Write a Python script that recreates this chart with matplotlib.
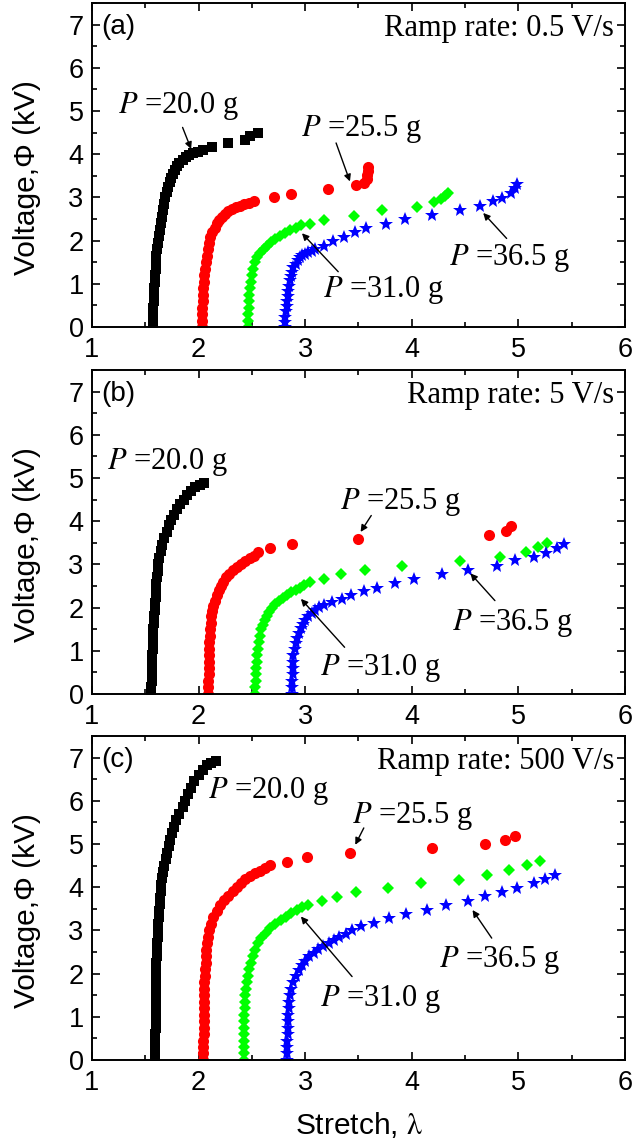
import matplotlib
matplotlib.use("Agg")
import matplotlib.pyplot as plt
from matplotlib.ticker import MultipleLocator

plt.rcParams["font.family"] = "Liberation Sans"
plt.rcParams["mathtext.fontset"] = "stix"

# ---- data: stretch (x) and voltage in kV (v) ----
# (a) ramp rate 0.5 V/s
a_20_x = [1.57, 1.57, 1.575, 1.575, 1.58, 1.58, 1.585, 1.59, 1.595, 1.60,
          1.60, 1.605, 1.61, 1.615, 1.625, 1.635, 1.645, 1.655, 1.665, 1.675,
          1.685, 1.70, 1.715, 1.73, 1.745, 1.76, 1.78, 1.80, 1.82, 1.85,
          1.88, 1.91, 1.95, 1.99, 2.04, 2.13, 2.28, 2.44, 2.48, 2.56]
a_20_v = [0, 0.15, 0.3, 0.45, 0.6, 0.75, 0.9, 1.05, 1.2, 1.35,
          1.5, 1.65, 1.8, 1.95, 2.1, 2.25, 2.4, 2.55, 2.7, 2.85,
          3.0, 3.12, 3.24, 3.35, 3.45, 3.55, 3.64, 3.72, 3.8, 3.87,
          3.93, 3.98, 4.02, 4.06, 4.10, 4.17, 4.27, 4.33, 4.41, 4.48]
a_255_x = [2.03, 2.03, 2.035, 2.035, 2.04, 2.04, 2.045, 2.05, 2.055, 2.06,
           2.065, 2.075, 2.085, 2.10, 2.11, 2.13, 2.15, 2.17, 2.19, 2.22,
           2.25, 2.28, 2.31, 2.35, 2.39, 2.43, 2.47, 2.52, 2.71, 2.87,
           3.21, 3.48, 3.55, 3.58, 3.58, 3.585, 3.59]
a_255_v = [0, 0.15, 0.3, 0.45, 0.6, 0.75, 0.9, 1.05, 1.2, 1.35,
           1.5, 1.65, 1.8, 1.95, 2.08, 2.2, 2.3, 2.4, 2.48, 2.55,
           2.62, 2.68, 2.73, 2.77, 2.81, 2.85, 2.88, 2.92, 3.0, 3.08,
           3.19, 3.29, 3.33, 3.42, 3.52, 3.62, 3.70]
a_31_x = [2.46, 2.46, 2.465, 2.47, 2.47, 2.475, 2.48, 2.49, 2.50, 2.51,
          2.53, 2.55, 2.58, 2.61, 2.64, 2.68, 2.72, 2.76, 2.81, 2.86,
          2.91, 2.96, 3.05, 3.18, 3.46, 3.72, 4.05, 4.21, 4.27, 4.31, 4.34]
a_31_v = [0, 0.15, 0.3, 0.45, 0.6, 0.75, 0.9, 1.05, 1.2, 1.35,
          1.5, 1.62, 1.72, 1.8, 1.88, 1.96, 2.04, 2.11, 2.18, 2.25,
          2.3, 2.35, 2.39, 2.48, 2.57, 2.70, 2.78, 2.90, 2.97, 3.04, 3.10]
a_365_x = [2.81, 2.81, 2.815, 2.82, 2.825, 2.83, 2.835, 2.84, 2.85, 2.86,
           2.87, 2.88, 2.89, 2.91, 2.93, 2.95, 2.97, 3.00, 3.03, 3.06,
           3.09, 3.18, 3.26, 3.36, 3.47, 3.57, 3.76, 3.94, 4.19, 4.45,
           4.64, 4.76, 4.85, 4.93, 4.97, 4.99]
a_365_v = [0, 0.12, 0.24, 0.36, 0.48, 0.6, 0.72, 0.84, 0.96, 1.08,
           1.18, 1.28, 1.38, 1.47, 1.55, 1.61, 1.66, 1.7, 1.74, 1.77,
           1.8, 1.88, 2.0, 2.09, 2.19, 2.29, 2.39, 2.50, 2.60, 2.70,
           2.79, 2.91, 2.98, 3.10, 3.22, 3.31]

# (b) ramp rate 5 V/s
b_20_x = [1.555, 1.555, 1.56, 1.56, 1.56, 1.565, 1.565, 1.57, 1.57, 1.575,
          1.575, 1.58, 1.585, 1.59, 1.595, 1.60, 1.60, 1.605, 1.61, 1.615,
          1.62, 1.63, 1.645, 1.66, 1.68, 1.70, 1.72, 1.74, 1.77, 1.80,
          1.83, 1.86, 1.89, 1.93, 1.97, 2.01, 2.05]
b_20_v = [0, 0.15, 0.3, 0.45, 0.6, 0.75, 0.9, 1.05, 1.2, 1.35,
          1.5, 1.65, 1.8, 1.95, 2.1, 2.25, 2.4, 2.55, 2.7, 2.85,
          3.0, 3.15, 3.3, 3.45, 3.6, 3.75, 3.9, 4.02, 4.15, 4.28,
          4.4, 4.5, 4.6, 4.7, 4.78, 4.84, 4.88]
b_255_x = [2.09, 2.09, 2.09, 2.095, 2.095, 2.095, 2.10, 2.10, 2.10, 2.105,
           2.11, 2.115, 2.12, 2.13, 2.14, 2.15, 2.17, 2.19, 2.21, 2.23,
           2.26, 2.29, 2.32, 2.36, 2.40, 2.44, 2.48, 2.52, 2.56, 2.67,
           2.88, 3.50, 4.72, 4.88, 4.93]
b_255_v = [0, 0.15, 0.3, 0.45, 0.6, 0.75, 0.9, 1.05, 1.2, 1.35,
           1.5, 1.65, 1.8, 1.92, 2.04, 2.16, 2.28, 2.4, 2.5, 2.6,
           2.7, 2.78, 2.86, 2.94, 3.01, 3.08, 3.14, 3.2, 3.28, 3.37,
           3.47, 3.58, 3.68, 3.77, 3.88]
b_31_x = [2.53, 2.53, 2.535, 2.54, 2.54, 2.545, 2.55, 2.555, 2.565, 2.575,
          2.59, 2.60, 2.62, 2.64, 2.66, 2.69, 2.72, 2.75, 2.79, 2.83,
          2.87, 2.91, 2.95, 2.99, 3.05, 3.18, 3.34, 3.56, 3.91, 4.45,
          4.83, 5.07, 5.18, 5.27]
b_31_v = [0, 0.15, 0.3, 0.45, 0.6, 0.75, 0.9, 1.05, 1.2, 1.35,
          1.5, 1.6, 1.7, 1.8, 1.9, 2.0, 2.08, 2.15, 2.22, 2.29,
          2.35, 2.41, 2.46, 2.51, 2.59, 2.66, 2.78, 2.87, 2.96, 3.07,
          3.18, 3.28, 3.40, 3.49]
b_365_x = [2.88, 2.88, 2.88, 2.885, 2.885, 2.89, 2.89, 2.90, 2.91, 2.92,
           2.94, 2.96, 2.98, 3.00, 3.03, 3.06, 3.09, 3.13, 3.18, 3.25,
           3.35, 3.43, 3.55, 3.67, 3.84, 4.02, 4.28, 4.53, 4.80, 4.97,
           5.15, 5.26, 5.36, 5.43]
b_365_v = [0, 0.15, 0.3, 0.45, 0.6, 0.75, 0.9, 1.05, 1.18, 1.3,
           1.42, 1.52, 1.62, 1.7, 1.8, 1.88, 1.95, 2.02, 2.07, 2.12,
           2.20, 2.28, 2.38, 2.45, 2.56, 2.66, 2.78, 2.87, 2.97, 3.09,
           3.17, 3.26, 3.37, 3.47]

# (c) ramp rate 500 V/s
c_20_x = [1.595, 1.595, 1.595, 1.595, 1.595, 1.60, 1.60, 1.60, 1.60, 1.60,
          1.60, 1.60, 1.60, 1.60, 1.605, 1.605, 1.61, 1.61, 1.61, 1.615,
          1.62, 1.62, 1.625, 1.63, 1.635, 1.64, 1.645, 1.65, 1.66, 1.67,
          1.68, 1.69, 1.70, 1.72, 1.73, 1.75, 1.77, 1.79, 1.82, 1.85,
          1.87, 1.90, 1.93, 1.96, 2.00, 2.04, 2.08, 2.12, 2.16]
c_20_v = [0, 0.15, 0.3, 0.45, 0.6, 0.75, 0.9, 1.05, 1.2, 1.35,
          1.5, 1.65, 1.8, 1.95, 2.1, 2.25, 2.4, 2.55, 2.7, 2.85,
          3.0, 3.15, 3.3, 3.45, 3.6, 3.75, 3.9, 4.05, 4.2, 4.35,
          4.5, 4.65, 4.8, 4.95, 5.1, 5.25, 5.4, 5.55, 5.7, 5.85,
          6.0, 6.15, 6.3, 6.45, 6.6, 6.72, 6.82, 6.88, 6.92]
c_255_x = [2.045, 2.045, 2.045, 2.045, 2.05, 2.05, 2.05, 2.05, 2.05, 2.05,
           2.05, 2.055, 2.055, 2.06, 2.06, 2.065, 2.065, 2.07, 2.08, 2.09,
           2.10, 2.12, 2.14, 2.17, 2.20, 2.24, 2.28, 2.32, 2.36, 2.40,
           2.44, 2.48, 2.53, 2.58, 2.62, 2.67, 2.83, 3.02, 3.42, 4.19,
           4.69, 4.87, 4.97]
c_255_v = [0, 0.15, 0.3, 0.45, 0.6, 0.75, 0.9, 1.05, 1.2, 1.35,
           1.5, 1.65, 1.8, 1.95, 2.1, 2.25, 2.4, 2.55, 2.7, 2.85,
           3.0, 3.15, 3.3, 3.45, 3.58, 3.7, 3.8, 3.9, 4.0, 4.1,
           4.18, 4.25, 4.32, 4.38, 4.45, 4.52, 4.59, 4.69, 4.80, 4.90,
           5.00, 5.10, 5.19]
c_31_x = [2.43, 2.43, 2.43, 2.43, 2.43, 2.43, 2.43, 2.43, 2.435, 2.435,
          2.44, 2.445, 2.45, 2.46, 2.47, 2.49, 2.51, 2.53, 2.56, 2.59,
          2.63, 2.67, 2.72, 2.77, 2.82, 2.87, 2.92, 2.97, 3.03, 3.16,
          3.30, 3.48, 3.78, 4.09, 4.44, 4.71, 4.91, 5.08, 5.20]
c_31_v = [0, 0.15, 0.3, 0.45, 0.6, 0.75, 0.9, 1.05, 1.2, 1.35,
          1.5, 1.65, 1.8, 1.95, 2.1, 2.25, 2.4, 2.55, 2.7, 2.82,
          2.94, 3.05, 3.15, 3.24, 3.32, 3.4, 3.47, 3.53, 3.59, 3.69,
          3.78, 3.88, 3.98, 4.09, 4.17, 4.29, 4.40, 4.52, 4.61]
c_365_x = [2.83, 2.83, 2.83, 2.83, 2.835, 2.835, 2.84, 2.84, 2.845, 2.85,
           2.86, 2.87, 2.885, 2.91, 2.94, 2.97, 3.00, 3.04, 3.08, 3.12,
           3.17, 3.22, 3.27, 3.32, 3.38, 3.44, 3.52, 3.65, 3.79, 3.95,
           4.14, 4.32, 4.53, 4.69, 4.85, 4.99, 5.15, 5.25, 5.34]
c_365_v = [0, 0.15, 0.3, 0.45, 0.6, 0.75, 0.9, 1.05, 1.2, 1.35,
           1.5, 1.65, 1.8, 1.95, 2.08, 2.2, 2.3, 2.4, 2.48, 2.56,
           2.63, 2.7, 2.78, 2.85, 2.92, 3.01, 3.10, 3.18, 3.28, 3.37,
           3.47, 3.59, 3.69, 3.80, 3.88, 3.98, 4.09, 4.19, 4.29]

loads = ["20.0", "25.5", "31.0", "36.5"]
rates = ["0.5", "5", "500"]
tags = ["(a)", "(b)", "(c)"]

SERIF = "Liberation Serif"


def draw_series(ax, xs, vs):
    ax.plot(xs[0], vs[0], ls="none", marker="s", ms=6.8, color="#000000", mew=0)
    ax.plot(xs[1], vs[1], ls="none", marker="o", ms=8.0, color="#ff0000", mew=0)
    ax.plot(xs[2], vs[2], ls="none", marker="D", ms=6.0, color="#00ff00", mew=0)
    ax.plot(xs[3], vs[3], ls="none", marker="*", ms=10.0, color="#0000ff", mew=0)


def style_axes(ax, tag, rate):
    ax.set_xlim(1, 6)
    ax.set_ylim(0, 7.5)
    ax.set_xticks(range(1, 7))
    ax.set_yticks(range(0, 8))
    ax.xaxis.set_minor_locator(MultipleLocator(0.5))
    ax.yaxis.set_minor_locator(MultipleLocator(0.5))
    ax.tick_params(which="both", direction="in", top=True, right=True,
                   width=1.2, labelsize=19.5)
    ax.tick_params(which="major", length=6, pad=6)
    ax.tick_params(which="minor", length=3.5)
    ax.tick_params(axis="x", which="major", pad=7)
    for sp in ax.spines.values():
        sp.set_linewidth(1.4)
    ax.set_ylabel("Voltage,\u03a6 (kV)", fontsize=21.5)
    ax.yaxis.set_label_coords(-0.096, 0.46)
    ax.text(1.09, 6.95, tag, ha="left", va="center", fontsize=20)
    ax.text(5.9, 6.73, "Ramp rate: %s V/s" % rate, ha="right",
            va="baseline", fontsize=22, family=SERIF)


def label(ax, x, y, load, tail=None, head=None):
    ax.text(x, y, "$P$ =%s g" % load, ha="left", va="baseline",
            fontsize=22, family=SERIF)
    if tail is not None:
        ax.annotate("", xy=head, xytext=tail,
                    arrowprops=dict(arrowstyle="-|>", color="k", lw=1.0,
                                    mutation_scale=10, shrinkA=0, shrinkB=0))


fig = plt.figure(figsize=(6.33, 11.47), dpi=100)
ax_a = fig.add_axes([0.1453, 0.7149, 0.842, 0.2825])
ax_b = fig.add_axes([0.1453, 0.3950, 0.842, 0.2825])
ax_c = fig.add_axes([0.1453, 0.0759, 0.842, 0.2825])

draw_series(ax_a, [a_20_x, a_255_x, a_31_x, a_365_x],
            [a_20_v, a_255_v, a_31_v, a_365_v])
draw_series(ax_b, [b_20_x, b_255_x, b_31_x, b_365_x],
            [b_20_v, b_255_v, b_31_v, b_365_v])
draw_series(ax_c, [c_20_x, c_255_x, c_31_x, c_365_x],
            [c_20_v, c_255_v, c_31_v, c_365_v])

for ax, tag, rate in zip([ax_a, ax_b, ax_c], tags, rates):
    style_axes(ax, tag, rate)

# panel (a) labels
label(ax_a, 1.24, 4.96, loads[0], (1.85, 4.62), (1.93, 4.12))
label(ax_a, 2.96, 4.42, loads[1], (3.29, 4.26), (3.42, 3.37))
label(ax_a, 3.17, 0.70, loads[2], (3.31, 1.28), (2.97, 2.17))
label(ax_a, 4.35, 1.44, loads[3], (4.89, 2.05), (4.67, 2.64))

# panel (b) labels
label(ax_b, 1.14, 5.21, loads[0])
label(ax_b, 3.33, 4.29, loads[1], (3.62, 4.13), (3.52, 3.75))
label(ax_b, 3.14, 0.43, loads[2], (3.37, 1.08), (2.96, 2.20))
label(ax_b, 4.38, 1.47, loads[3], (4.78, 2.16), (4.55, 2.79))

# panel (c) labels
label(ax_c, 2.09, 6.06, loads[0])
label(ax_c, 3.44, 5.48, loads[1], (3.55, 5.37), (3.47, 4.98))
label(ax_c, 3.14, 1.24, loads[2], (3.44, 1.93), (2.96, 3.32))
label(ax_c, 4.26, 2.16, loads[3], (4.75, 2.82), (4.57, 3.47))

ax_c.set_xlabel("Stretch, $\\mathrm{\\lambda}$", fontsize=21.5, labelpad=10)

fig.savefig("out.png", dpi=100)
